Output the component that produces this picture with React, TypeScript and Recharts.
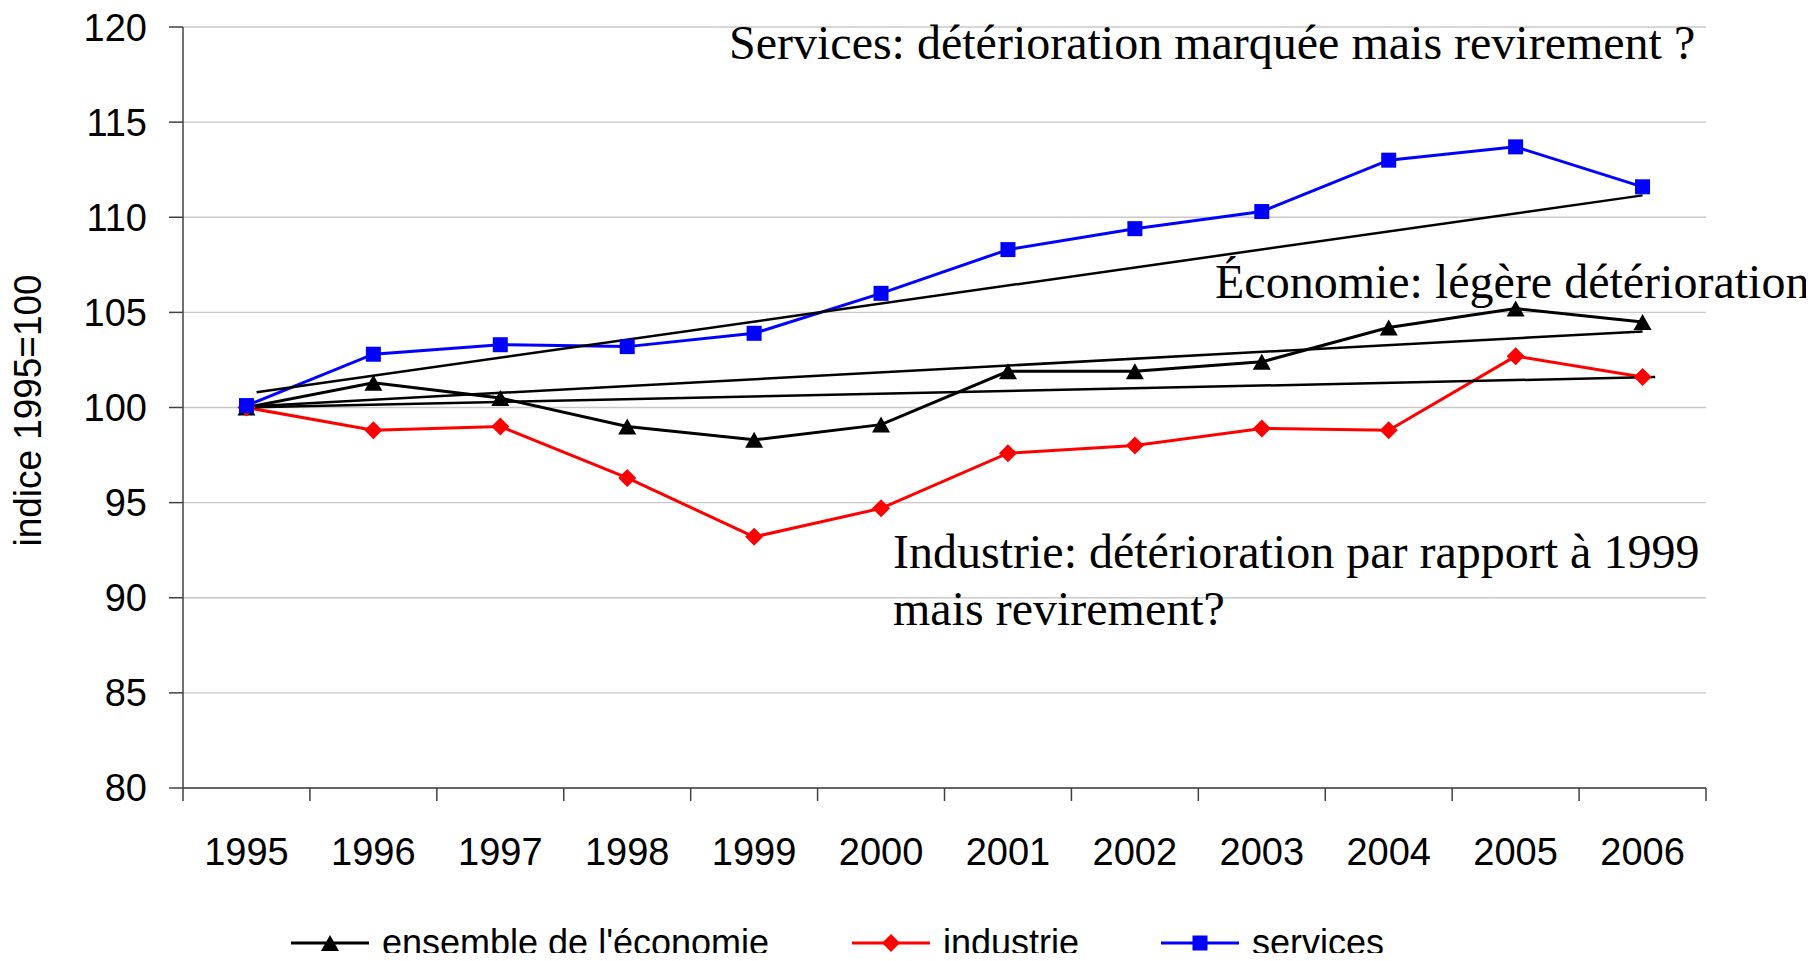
import { LineChart, Line, XAxis, YAxis, CartesianGrid, ReferenceLine } from "recharts";

const years = [1995, 1996, 1997, 1998, 1999, 2000, 2001, 2002, 2003, 2004, 2005, 2006];
const economie = [100, 101.3, 100.5, 99.0, 98.3, 99.1, 101.9, 101.9, 102.4, 104.2, 105.2, 104.5];
const industrie = [100, 98.8, 99.0, 96.3, 93.2, 94.7, 97.6, 98.0, 98.9, 98.8, 102.7, 101.6];
const services = [100.1, 102.8, 103.3, 103.2, 103.9, 106.0, 108.3, 109.4, 110.3, 113.0, 113.7, 111.6];
const yTicks = [80, 85, 90, 95, 100, 105, 110, 115, 120];

// droites de tendance tracées à la main (année, indice)
const trendServices = [[1995.08, 100.8], [2006, 111.15]];
const trendEconomie = [[1995, 100.05], [2006, 104.0]];
const trendIndustrie = [[1995, 100], [2006.1, 101.6]];

const seriesNames = ["ensemble de l'économie", "industrie", "services"];
const seriesColors = ["#000000", "#ff0000", "#0000ff"];

const W = 1798;
const H = 945;
const SANS = "'Liberation Sans', Arial, sans-serif";
const SERIF = "'Liberation Serif', 'Times New Roman', serif";

const data = years.map((year, i) => ({
  year,
  economie: economie[i],
  industrie: industrie[i],
  services: services[i],
}));

// graduations entre les catégories, libellés au centre
const xTicks = [...years.map((y) => y - 0.5), years[years.length - 1] + 0.5, ...years].sort((a, b) => a - b);

function Marker({ shape, cx, cy, color }: any) {
  if (cx == null || cy == null) return null;
  if (shape === "triangle")
    return <path d={`M${cx},${cy - 8} L${cx + 9},${cy + 8} L${cx - 9},${cy + 8} Z`} fill={color} />;
  if (shape === "diamond")
    return <path d={`M${cx},${cy - 9} L${cx + 9},${cy} L${cx},${cy + 9} L${cx - 9},${cy} Z`} fill={color} />;
  return <rect x={cx - 7.5} y={cy - 7.5} width={15} height={15} fill={color} />;
}

const shapes = ["triangle", "diamond", "square"];

function XTick(props: any) {
  const { x, y, payload } = props;
  const v = payload.value;
  if (Number.isInteger(v)) {
    return (
      <text x={x} y={y + 77} textAnchor="middle" fontFamily={SANS} fontSize={38} fill="#000">
        {v}
      </text>
    );
  }
  return <line x1={x} y1={y} x2={x} y2={y + 13} stroke="#404040" strokeWidth={1.5} />;
}

function segment(t: number[][]) {
  return [
    { x: t[0][0], y: t[0][1] },
    { x: t[1][0], y: t[1][1] },
  ];
}

export default function App() {
  const keys = ["economie", "industrie", "services"];
  const legendX = [283, 844, 1153];

  return (
    <div style={{ position: "relative", width: W, height: H }}>
      <LineChart
        width={W}
        height={H}
        data={data}
        margin={{ top: 19, right: 100, left: 0, bottom: 0 }}
        style={{ overflow: "visible" }}
      >
        <CartesianGrid vertical={false} stroke="#c8c8c8" strokeWidth={1.3} />
        <XAxis
          dataKey="year"
          type="number"
          domain={[1994.5, 2006.5]}
          allowDataOverflow
          ticks={xTicks}
          interval={0}
          tick={<XTick />}
          tickLine={false}
          tickSize={0}
          tickMargin={0}
          height={165}
          stroke="#404040"
          strokeWidth={1.5}
        />
        <YAxis
          domain={[80, 120]}
          ticks={yTicks}
          interval={0}
          width={175}
          tickSize={14}
          tickMargin={22}
          stroke="#404040"
          strokeWidth={1.5}
          tick={{ fill: "#000", fontSize: 38, fontFamily: SANS }}
          label={{
            content: (p: any) => {
              const vb = p.viewBox;
              const cx = vb.x + 20;
              const cy = vb.y + vb.height / 2 + 3;
              return (
                <text
                  x={cx}
                  y={cy}
                  transform={`rotate(-90 ${cx} ${cy})`}
                  textAnchor="middle"
                  dominantBaseline="central"
                  fontFamily={SANS}
                  fontSize={38}
                  textLength={272}
                  lengthAdjust="spacingAndGlyphs"
                  fill="#000"
                >
                  indice 1995=100
                </text>
              );
            },
          }}
        />
        {keys.map((k, i) => (
          <Line
            key={k}
            dataKey={k}
            name={seriesNames[i]}
            stroke={seriesColors[i]}
            strokeWidth={3}
            isAnimationActive={false}
            dot={(p: any) => <Marker key={`${k}-${p.index}`} shape={shapes[i]} cx={p.cx} cy={p.cy} color={seriesColors[i]} />}
            activeDot={false}
          />
        ))}
        <ReferenceLine segment={segment(trendServices)} stroke="#000" strokeWidth={2.5} />
        <ReferenceLine segment={segment(trendEconomie)} stroke="#000" strokeWidth={2.5} />
        <ReferenceLine segment={segment(trendIndustrie)} stroke="#000" strokeWidth={2.5} />
      </LineChart>

      <svg
        width={1806}
        height={953}
        style={{ position: "absolute", left: 0, top: 0, pointerEvents: "none", overflow: "visible" }}
      >
        <g fontFamily={SERIF} fontSize={48} fill="#000">
          <text x={721} y={51}>Services: détérioration marquée mais revirement ?</text>
          <text x={1207} y={290}>Économie: légère détérioration</text>
          <text x={885} y={560}>Industrie: détérioration par rapport à 1999</text>
          <text x={885} y={617}>mais revirement?</text>
        </g>
        {seriesNames.map((name, i) => (
          <g key={name}>
            <line x1={legendX[i]} y1={935} x2={legendX[i] + 78} y2={935} stroke={seriesColors[i]} strokeWidth={3} />
            <Marker shape={shapes[i]} cx={legendX[i] + 39} cy={935} color={seriesColors[i]} />
            <text x={legendX[i] + 91} y={947} fontFamily={SANS} fontSize={36} fill="#000">
              {name}
            </text>
          </g>
        ))}
      </svg>
    </div>
  );
}
